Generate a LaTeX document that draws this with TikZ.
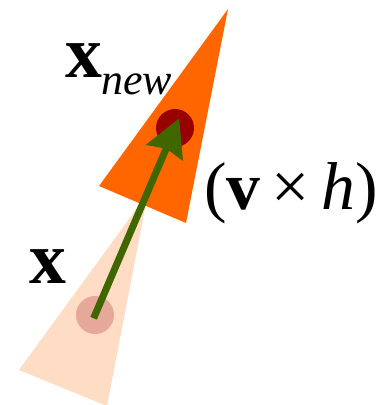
\documentclass[tikz,border=0pt]{standalone}
\usepackage{fontspec}
\setmainfont{Liberation Serif}
\usetikzlibrary{arrows.meta}

\definecolor{moveorange}{RGB}{255,102,0}
\definecolor{movelight}{RGB}{255,220,196}
\definecolor{ptdark}{RGB}{153,0,0}
\definecolor{ptlight}{RGB}{230,168,152}
\definecolor{stepgreen}{RGB}{64,102,0}

\begin{document}
\begin{tikzpicture}[
  x=0.02cm, y=-0.02cm,
  pt/.style={circle, inner sep=0pt, minimum size=0.76cm},
  lbl/.style={font=\fontsize{42}{48}\selectfont, inner sep=0pt},
  steparr/.style={-{Stealth[length=0.74cm, width=0.78cm, inset=0.08cm]}, line width=0.14cm, stepgreen}
]
\useasboundingbox (0,0) rectangle (376,405);

% cones
\fill[movelight]   (148,193) -- (19,370) -- (107,406) -- cycle;
\fill[moveorange]  (228,9) -- (99,186) -- (186,223) -- cycle;

% points
\node[pt, fill=ptlight] (xold) at (95,315) {};
\node[pt, fill=ptdark]  (xnew) at (175,128) {};

\draw[steparr, shorten <=-2pt, shorten >=-6pt] (xold.center) -- (xnew.center);

% labels
\node[lbl, anchor=base west] (lnew) at (65,78) {\textbf{x}};
\node[lbl, anchor=base west, font=\fontsize{25}{30}\selectfont\itshape] (lsub) at (101,95) {new};
\node[lbl, anchor=base west] (lold) at (29,283) {\textbf{x}};
\node[lbl, anchor=base west, font=\fontsize{38.5}{44}\selectfont] (lstep) at (204,209) {(\textbf{v}\,×\,\textit{h})};
\end{tikzpicture}
\end{document}
